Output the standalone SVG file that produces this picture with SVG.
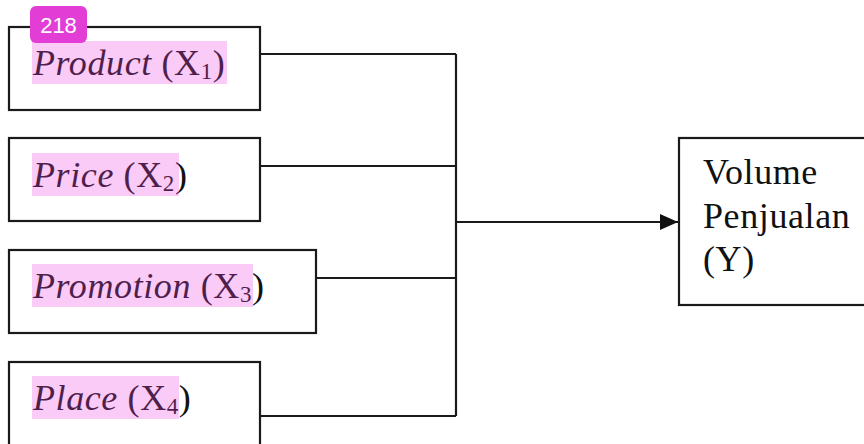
<svg xmlns="http://www.w3.org/2000/svg" width="864" height="444" viewBox="0 0 864 444">
<defs>
<style>
.box{fill:#fff;stroke:#1a1a1a;stroke-width:2.2}
.ln{fill:none;stroke:#1a1a1a;stroke-width:2.2}
.t{font-family:"Liberation Serif","Times New Roman",serif;font-size:36px;fill:#111;letter-spacing:0.6px}
.i{font-style:italic}
.sub{font-size:23px}
.hl{fill:#ee44dd;fill-opacity:0.28}
</style>
<marker id="ah" markerWidth="18" markerHeight="16" refX="18" refY="8" orient="auto" markerUnits="userSpaceOnUse">
<path d="M0,0 L18,8 L0,16 Z" fill="#111"/>
</marker>
</defs>
<rect width="864" height="444" fill="#fff"/>
<g id="connectors">
<path class="ln" d="M260,54 H456 M260,166 H456 M316,278 H456 M260,416 H456 M456,54 V416"/>
<path class="ln" d="M456,222 H678" marker-end="url(#ah)"/>
</g>
<g id="product">
<rect class="box" x="9" y="27" width="251" height="83"/>
<text class="t" x="33" y="75"><tspan class="i">Product</tspan> (X<tspan class="sub" dy="4">1</tspan><tspan dy="-4">)</tspan></text>
<rect class="hl" x="32" y="41" width="195" height="43"/>
</g>
<g id="price">
<rect class="box" x="9" y="138" width="251" height="83"/>
<text class="t" x="33" y="187"><tspan class="i">Price</tspan> (X<tspan class="sub" dy="4">2</tspan><tspan dy="-4">)</tspan></text>
<rect class="hl" x="32" y="153" width="147" height="43"/>
</g>
<g id="promotion">
<rect class="box" x="9" y="250" width="307" height="83"/>
<text class="t" x="33" y="298"><tspan class="i">Promotion</tspan> (X<tspan class="sub" dy="4">3</tspan><tspan dy="-4">)</tspan></text>
<rect class="hl" x="32" y="264" width="221" height="43"/>
</g>
<g id="place">
<rect class="box" x="9" y="362" width="251" height="86"/>
<text class="t" x="33" y="410"><tspan class="i">Place</tspan> (X<tspan class="sub" dy="4">4</tspan><tspan dy="-4">)</tspan></text>
<rect class="hl" x="32" y="376" width="147" height="43"/>
</g>
<g id="volume">
<rect class="box" x="679" y="138" width="190" height="167"/>
<text class="t" x="703" y="184">Volume</text>
<text class="t" x="703" y="228">Penjualan</text>
<text class="t" x="703" y="271">(Y)</text>
</g>
<g id="badge">
<rect x="30" y="6" width="57" height="37" rx="6" fill="#e23ed6"/>
<text x="58.5" y="33" text-anchor="middle" font-family="Liberation Sans,Arial,sans-serif" font-size="22" fill="#fff">218</text>
</g>
</svg>
